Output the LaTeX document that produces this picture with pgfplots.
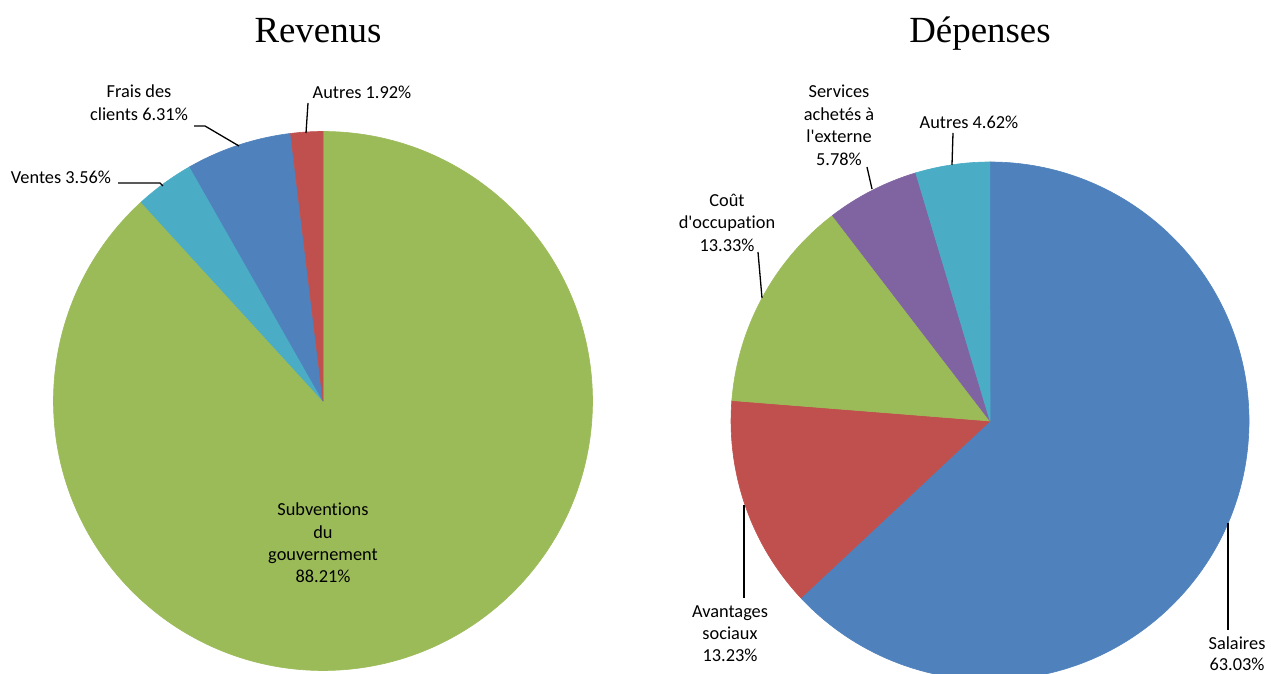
\documentclass[border=0pt]{standalone}
\usepackage{pgfplots}
\pgfplotsset{compat=1.18}
\usepackage{pgfplotstable}
\usepackage{fontspec}
\setmainfont{Liberation Serif}
\newfontfamily\lblfont[RawFeature={-liga}]{Carlito}

\definecolor{cgreen}{HTML}{9BBB59}
\definecolor{ccyan}{HTML}{4BACC6}
\definecolor{cblue}{HTML}{4F81BD}
\definecolor{cred}{HTML}{C0504D}
\definecolor{cpurple}{HTML}{8064A2}

% Revenus, clockwise from 12 o'clock
\pgfplotstableread{
label value color
Subventions 88.21 cgreen
Ventes 3.56 ccyan
Frais 6.31 cblue
Autres 1.92 cred
}\revtable

% Depenses, clockwise from 12 o'clock
\pgfplotstableread{
label value color
Salaires 63.03 cblue
Avantages 13.23 cred
Occupation 13.33 cgreen
Services 5.78 cpurple
Autres 4.62 ccyan
}\deptable

\newdimen\pieR
\newcommand\drawpie[1]{%
  \pgfextractx{\pieR}{\pgfpointdiff{\pgfplotspointaxisxy{0}{0}}{\pgfplotspointaxisxy{1}{0}}}%
  \xdef\piecum{90}%
  \pgfplotstablegetrowsof{#1}%
  \pgfmathtruncatemacro\nrows{\pgfplotsretval-1}%
  \foreach \i in {0,...,\nrows}{%
    \pgfplotstablegetelem{\i}{value}\of{#1}\let\pval\pgfplotsretval
    \pgfplotstablegetelem{\i}{color}\of{#1}\let\pcol\pgfplotsretval
    \pgfmathsetmacro\pa{\piecum}%
    \pgfmathsetmacro\pb{\piecum-3.6*\pval}%
    \pgfmathsetmacro\pca{cos(\pa)}%
    \pgfmathsetmacro\psa{sin(\pa)}%
    \filldraw[fill=\pcol, draw=\pcol, line width=0.6bp, line join=round] (axis cs:0,0) -- (axis cs:\pca,\psa) arc[start angle=\pa, end angle=\pb, radius=\pieR] -- cycle;
    \xdef\piecum{\pb}%
  }%
}

\begin{document}
\begin{tikzpicture}[x=1bp,y=1bp]
\useasboundingbox (0,0) rectangle (1271,674);

\begin{axis}[at={(323bp,273bp)}, anchor=center, scale only axis,
  width=539bp, height=539bp, disabledatascaling,
  xmin=-1, xmax=1, ymin=-1, ymax=1, hide axis, clip=false]
  \pgfplotsextra{\drawpie{\revtable}}
\end{axis}

\begin{axis}[at={(990bp,253bp)}, anchor=center, scale only axis,
  width=518bp, height=518bp, disabledatascaling,
  xmin=-1, xmax=1, ymin=-1, ymax=1, hide axis, clip=false]
  \pgfplotsextra{\drawpie{\deptable}}
\end{axis}

% titles
\node[anchor=base, font=\fontsize{37}{40}\selectfont] at (318,631) {Revenus};
\node[anchor=base, font=\fontsize{37}{40}\selectfont] at (980,631) {Dépenses};

% leader lines
\begin{scope}[line width=1.3bp, black]
\draw (194,548) -- (205,548) -- (239,528);
\draw (308,571) -- (306,541);
\draw (118,491) -- (160,491) -- (163,488);
\draw (867,507) -- (872,485);
\draw (953,541) -- (952,509);
\draw (758,422) -- (762,376);
\draw (744,169) -- (744,76);
\draw (1228,151) -- (1228,44);
\end{scope}

% labels
\begin{scope}[every node/.style={anchor=base, inner sep=0pt, font=\lblfont\fontsize{18.4}{22}\selectfont}]
\node at (139,576) {Frais des};
\node at (139,553) {clients 6.31\%};
\node at (362,575) {Autres 1.92\%};
\node at (61,490) {Ventes 3.56\%};
\node at (323,158) {Subventions};
\node at (323,135) {du};
\node at (323,113) {gouvernement};
\node at (323,91) {88.21\%};

\node at (839,576) {Services};
\node at (839,553) {achetés à};
\node at (839,531) {l'externe};
\node at (839,508) {5.78\%};
\node at (969,545) {Autres 4.62\%};
\node at (727,467) {Coût};
\node at (727,445) {d'occupation};
\node at (727,422) {13.33\%};
\node at (730,56) {Avantages};
\node at (730,34) {sociaux};
\node at (730,12) {13.23\%};
\node at (1237,24) {Salaires};
\node at (1237,3) {63.03\%};
\end{scope}
\end{tikzpicture}
\end{document}
